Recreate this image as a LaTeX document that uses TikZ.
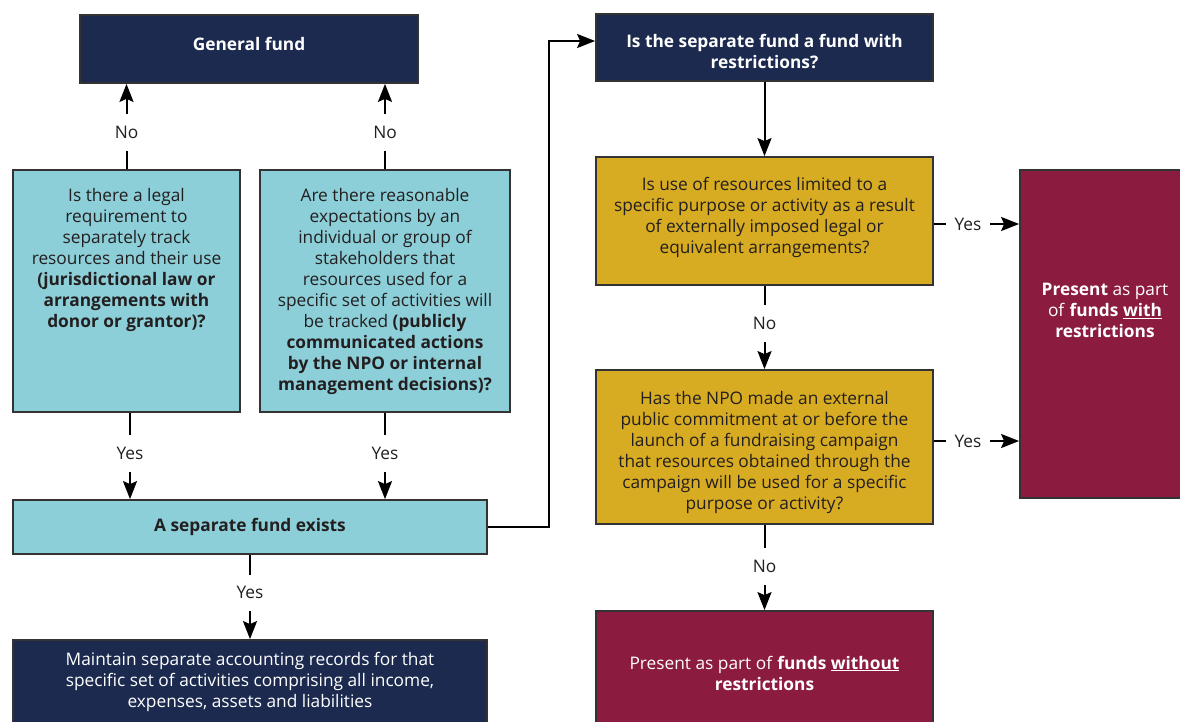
\documentclass[tikz,border=0pt]{standalone}
\usepackage{fontspec}
\setmainfont{Open Sans}
\usetikzlibrary{arrows.meta,calc}
\definecolor{navy}{HTML}{1B2A4E}
\definecolor{cyanbox}{HTML}{8CCFD8}
\definecolor{goldbox}{HTML}{D8AC22}
\definecolor{maroon}{HTML}{8C1B40}
\definecolor{edge}{HTML}{333333}
\definecolor{ink}{HTML}{231F20}
\newcommand{\fs}{\fontsize{17.3}{21}\selectfont}
\newcommand{\tbox}[4]{\parbox[c][#1][t]{#2}{\centering\vspace*{#3}#4\par}}
\begin{document}
\begin{tikzpicture}[x=1pt,y=-1pt,
  box/.style={draw=edge, line width=1.8pt, rectangle, inner sep=0pt, align=center, font=\fs, text=ink},
  navybox/.style={box, fill=navy, text=white},
  cyanb/.style={box, fill=cyanbox},
  goldb/.style={box, fill=goldbox},
  maroonb/.style={box, fill=maroon, text=white},
  arr/.style={draw=black, line width=2pt, -{Stealth[length=18pt,width=14pt,inset=3pt]}},
  labv/.style={fill=white, font=\fs, text=ink, inner xsep=3pt, inner ysep=12pt},
  labh/.style={fill=white, font=\fs, text=ink, inner xsep=9pt, inner ysep=3pt}
]
\useasboundingbox (0,0) rectangle (1180,722);
\clip (0,0) rectangle (1180,722);

% boxes
\node[navybox, minimum width=338pt, minimum height=68pt] (gf) at (249,49)
  {\tbox{68pt}{338pt}{22pt}{\textbf{General fund}}};

\node[cyanb, minimum width=227pt, minimum height=242pt] (q1) at (126.5,291)
  {\tbox{242pt}{227pt}{18pt}{Is there a legal\\ requirement to\\ separately track\\ resources and their use\\ \textbf{(jurisdictional law or}\\ \textbf{arrangements with}\\ \textbf{donor or grantor)?}}};

\node[cyanb, minimum width=250pt, minimum height=242pt] (q2) at (385,291)
  {\tbox{242pt}{250pt}{18pt}{Are there reasonable\\ expectations by an\\ individual or group of\\ stakeholders that\\ resources used for a\\ specific set of activities will\\ be tracked \textbf{(publicly}\\ \textbf{communicated actions}\\ \textbf{by the NPO or internal}\\ \textbf{management decisions)?}}};

\node[cyanb, minimum width=474pt, minimum height=54pt] (sep) at (250,527) {\textbf{A separate fund exists}};

\node[navybox, minimum width=474pt, minimum height=84pt] (m) at (250,682)
  {Maintain separate accounting records for that\\ specific set of activities comprising all income,\\ expenses, assets and liabilities};

\node[navybox, minimum width=337pt, minimum height=67pt] (q3) at (764.5,47.5)
  {\tbox{67pt}{337pt}{20pt}{\textbf{Is the separate fund a fund with}\\ \textbf{restrictions?}}};

\node[goldb, minimum width=337pt, minimum height=128pt] (y1) at (764.5,221)
  {\tbox{128pt}{337pt}{20pt}{Is use of resources limited to a\\ specific purpose or activity as a result\\ of externally imposed legal or\\ equivalent arrangements?}};

\node[goldb, minimum width=337pt, minimum height=154pt] (y2) at (764.5,447)
  {\tbox{154pt}{337pt}{21pt}{Has the NPO made an external\\ public commitment at or before the\\ launch of a fundraising campaign\\ that resources obtained through the\\ campaign will be used for a specific\\ purpose or activity?}};

\node[maroonb, minimum width=170pt, minimum height=328pt] (r) at (1105,334)
  {\tbox{328pt}{170pt}{113pt}{\textbf{Present} as part\\ of \textbf{funds \underline{with}}\\ \textbf{restrictions}}};

\node[maroonb, minimum width=337pt, minimum height=124pt] (b) at (764.5,673)
  {Present as part of \textbf{funds \underline{without}}\\ \textbf{restrictions}};

% connectors
\draw[arr] (q1.north) -- (q1.north |- gf.south) node[labv, pos=0.43] {No};
\draw[arr] (q2.north) -- (q2.north |- gf.south) node[labv, pos=0.43] {No};
\draw[arr] ([xshift=3.5pt]q1.south) -- ([xshift=3.5pt]q1.south |- sep.north) node[labv, pos=0.47] {Yes};
\draw[arr] (q2.south) -- (q2.south |- sep.north) node[labv, pos=0.47] {Yes};
\draw[arr] (sep.south) -- (m.north) node[labv, pos=0.45] {Yes};
\draw[arr] (sep.east) -- ++(61,0) |- ([yshift=6.5pt]q3.west);
\draw[arr] (q3.south) -- (y1.north);
\draw[arr] (y1.south) -- (y2.north) node[labv, pos=0.45] {No};
\draw[arr] (y2.south) -- (b.north) node[labv, pos=0.49] {No};
\draw[arr] ([yshift=-3pt]y1.east) -- ([yshift=-3pt]y1.east -| r.west) node[labh, pos=0.40] {Yes};
\draw[arr] ([yshift=6pt]y2.east) -- ([yshift=6pt]y2.east -| r.west) node[labh, pos=0.40] {Yes};
\end{tikzpicture}
\end{document}
